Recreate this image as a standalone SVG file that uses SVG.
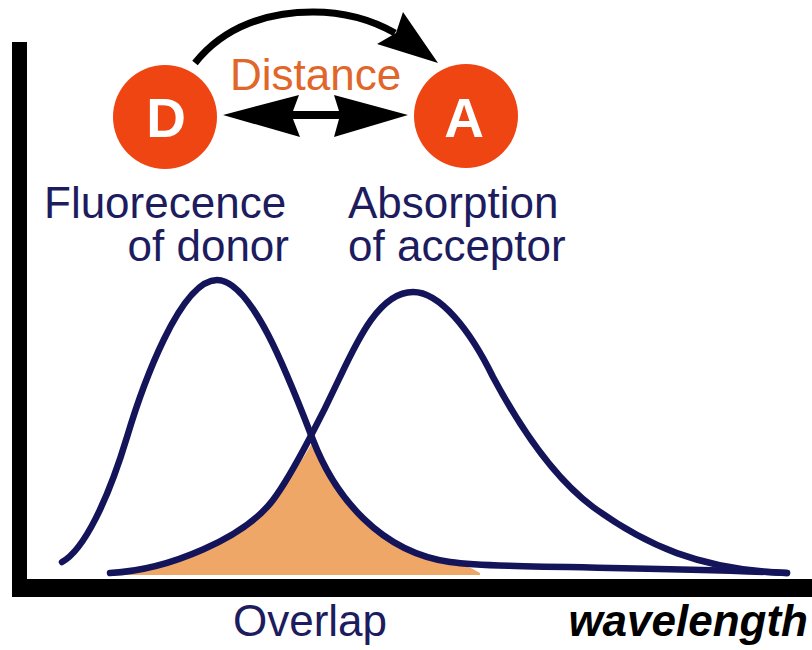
<svg xmlns="http://www.w3.org/2000/svg" width="812" height="650" viewBox="0 0 812 650">
<style>
.lbl{font-family:"Liberation Sans",Arial,sans-serif;font-size:44px;fill:#1c1c5e}
.node circle{fill:#ee4512}
.node text{font-family:"Liberation Sans",Arial,sans-serif;font-weight:bold;font-size:55px;fill:#ffffff;text-anchor:middle}
.curve{fill:none;stroke:#14145a;stroke-width:6.5;stroke-linecap:round;stroke-linejoin:round}
</style>
<rect width="812" height="650" fill="#ffffff"/>
<g id="overlap">
<path d="M110,574 C170,570 245,537 273,500 C288,480 303,460 313,441 C335,497 380,552 450,562 C462,564 472,568 480,573 L480,575 L110,575 Z" fill="#eea766"/>
</g>
<g id="donor-spectrum">
<path class="curve" d="M62,562 C84,550 108,500 127,437 C142,387 180,280 217,280 C252,280 289,378 313,440 C335,497 380,552 450,562 C500,569 650,566 787,573"/>
</g>
<g id="acceptor-spectrum">
<path class="curve" d="M110,573 C170,570 245,537 273,500 C294,472 326,407 340,377 C358,339 380,292 413,292 C440,292 470,330 493,377 C516,420 550,475 593,507 C645,545 700,570 787,573"/>
</g>
<g id="axes">
<rect x="12" y="42" width="15" height="555" fill="#000000"/>
<rect x="12" y="579" width="800" height="18" fill="#000000"/>
</g>
<g id="D" class="node">
<circle cx="165" cy="117" r="52"/>
<text x="166" y="137">D</text>
</g>
<g id="A" class="node">
<circle cx="466" cy="116" r="52"/>
<text x="464" y="137">A</text>
</g>
<g id="connectors">
<path d="M195,63 C225,25 270,12 313,12 C345,12 372,20 395,33" fill="none" stroke="#000000" stroke-width="7"/>
<polygon points="438,63 403,12 396,33 377,44" fill="#000000"/>
<path d="M223,115 L299,95 L293,111 L339,111 L334,95 L408,115 L334,137 L339,119 L293,119 L300,137 Z" fill="#000000"/>
</g>
<g id="labels">
<text x="230" y="90" class="lbl" style="fill:#e0662a">Distance</text>
<text x="44" y="218" class="lbl">Fluorecence</text>
<text x="289" y="261" class="lbl" text-anchor="end">of donor</text>
<text x="348" y="218" class="lbl">Absorption</text>
<text x="348" y="261" class="lbl">of acceptor</text>
<text x="233" y="636" class="lbl">Overlap</text>
<text x="808" y="636" class="lbl" text-anchor="end" style="fill:#000000;font-weight:bold;font-style:italic">wavelength</text>
</g>
</svg>
